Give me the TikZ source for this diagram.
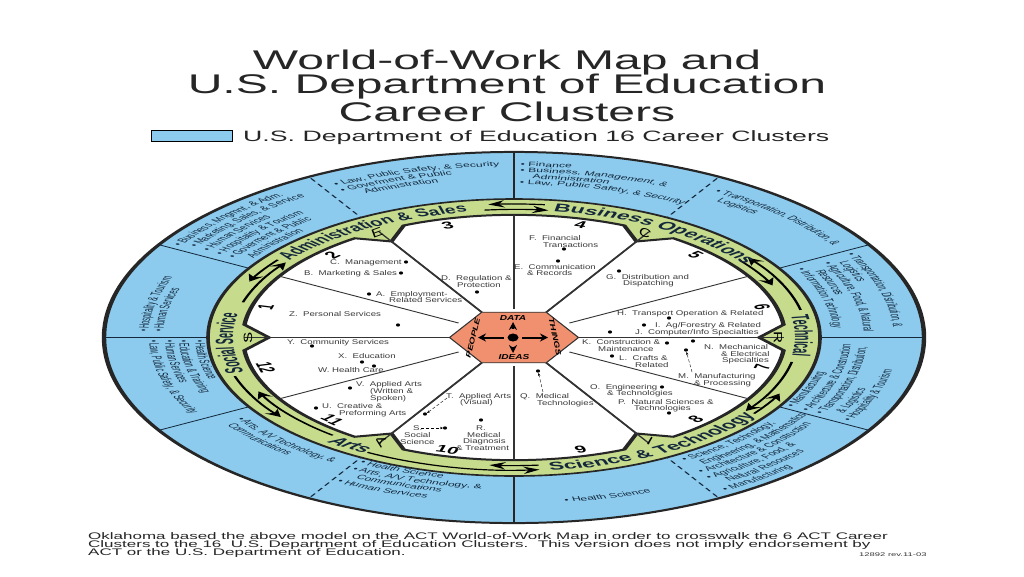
\documentclass[tikz,border=0pt]{standalone}
\usepackage{fontspec}
\usetikzlibrary{arrows.meta}
\setmainfont{Liberation Sans}
\newfontfamily\ftitle[FakeStretch=1.78]{Liberation Sans}
\newfontfamily\fbody[FakeStretch=1.4]{Liberation Sans}
\newfontfamily\fring[FakeStretch=.87]{Liberation Sans}
\newfontfamily\fringb[FakeStretch=.78]{Liberation Sans}
\newfontfamily\fringw[FakeStretch=.92]{Liberation Sans}
\definecolor{ringblue}{HTML}{8CCBEE}
\definecolor{ringgreen}{HTML}{C6DB8C}
\definecolor{hexred}{HTML}{F0906F}
\definecolor{bodygray}{HTML}{3A3A3A}
\definecolor{ringink}{HTML}{14283C}
\newcommand\rtxt{\fontsize{14}{14}\selectfont\fring}
\newcommand\rhead{\fontsize{25}{25}\selectfont\fringb\bfseries}
\newcommand\rheadw{\fontsize{25}{25}\selectfont\fringw\bfseries}
\newcommand\rheadi{\fontsize{25}{25}\selectfont\fringw\bfseries\itshape}
\newdimen\wheelpos \newdimen\wheelmid \newdimen\wheelstep \newbox\wheelbox
\makeatletter
\def\arcchar#1{\setbox\wheelbox=\hbox{\pgfinterruptpicture\arcfont #1\endpgfinterruptpicture}\wheelstep=\wd\wheelbox
 \wheelmid=\wheelpos \advance\wheelmid by .5\wheelstep
 \edef\arcmidn{\strip@pt\wheelmid}%
 \pgfmathsetmacro\arcang{\arcS+\arcD*(\arcmidn/\arcR)*57.29578}%
 \pgfmathsetmacro\arcrot{\arcang+\arcD*90}%
 \advance\wheelpos by \wheelstep
 \node[inner sep=0pt,text=ringink,font=\arcfont,rotate=\arcrot,anchor=base] at (\arcang:\arcR) {#1};}
\def\arcword#1{\@tfor\arcc:=#1\do{\arcchar{\arcc}}}
\def\arcwords#1 #2\@nil{\arcword{#1}\ifx\relax#2\relax\else\advance\wheelpos by \arcspace\relax\arcwords#2\@nil\fi}
\newcommand\arctext[5]{\begingroup\def\arcR{#1}\def\arcS{#2}\def\arcD{#3}\def\arcfont{#4}\wheelpos=0pt
 \setbox\wheelbox=\hbox{\pgfinterruptpicture\arcfont\global\dimen1=\fontdimen2\font\endpgfinterruptpicture}\edef\arcspace{\the\dimen1}\arcwords#5 \@nil\endgroup}
\makeatother
% clockwise text (upper half), counter-clockwise text (lower half)
\newcommand\cwt[4]{\arctext{#1}{#2}{-1}{#3}{#4}}
\newcommand\cct[4]{\arctext{#1}{#2}{1}{#3}{#4}}
\newcounter{ftn}
\newcommand\ft[3]{\stepcounter{ftn}\node[flat] (ft\theftn) at (#1,#2+2.3) {#3};}
\newcommand\dt[2]{\fill (#1,#2) ellipse[x radius=2.1,y radius=1.6];}
\tikzset{
 flat/.style={anchor=base west,inner sep=0pt,font=\fontsize{6.9}{7}\selectfont\fbody,text=bodygray},
 ttl/.style={inner sep=0pt,font=\fontsize{27}{27}\selectfont\ftitle,text=black!85},
 note/.style={anchor=base west,inner sep=0pt,font=\fontsize{9.55}{9.55}\selectfont\ftitle,text=black!85},
 ringline/.style={draw=ringink,line width=1.6pt},
 dashline/.style={ringline,dash pattern=on 8pt off 6pt},
 flow/.style={line width=2.6pt,-{Stealth[length=16pt,width=16pt]}},
 hexlab/.style={inner sep=0pt,font=\fontsize{7.2}{7}\selectfont\fbody\bfseries\itshape},
 letter/.style={inner sep=0pt,font=\fontsize{12}{12}\selectfont\fbody},
 num/.style={inner sep=0pt,font=\fontsize{22}{22}\selectfont\fringw\bfseries},
 thinarrow/.style={densely dashed,line width=.4pt,-{Stealth[length=3pt,width=2.4pt]}},
}
\begin{document}
\begin{tikzpicture}[x=1pt,y=-1pt]
\useasboundingbox (0,0) rectangle (1024,576);
\fill[white] (0,0) rectangle (1024,576);
% title
\node[ttl] (t1) at (507,63) {World-of-Work Map and};
\node[ttl] (t2) at (507,87) {U.S. Department of Education};
\node[ttl] (t3) at (507,112) {Career Clusters};
\node[draw=black,line width=.8pt,fill=ringblue,minimum width=81pt,minimum height=11pt,inner sep=0pt,anchor=west] (legend) at (151,136) {};
\node[anchor=west,inner sep=0pt,font=\fontsize{15}{15}\selectfont\ftitle,text=black!85] (legendtext) at (243,138) {U.S. Department of Education 16 Career Clusters};
% the wheel, a circle squashed in y
\begin{scope}[x=1pt,y=1pt,transform canvas={shift={(514,-337.5)},yscale=.4526}]
 \draw[fill=ringblue,line width=4.4pt,draw=black!85] (0,0) circle[radius=410];
 \foreach \a in {0,180} \draw[ringline] (\a:300) -- (\a:410);
 \foreach \a in {30,150,210,330} \draw[ringline] (\a:300) -- (\a:410);
 \foreach \a in {90,270} \draw[line width=2pt,draw=black!85] (\a:300) -- (\a:410);
 \foreach \a in {60,120,240,300} \draw[dashline] (\a:300) -- (\a:408);
 \draw[fill=ringgreen,line width=3.6pt,draw=black!85] (0,0) circle[radius=306];
 \draw[fill=white,line width=4.4pt,draw=black!85,line join=miter]
   (-6:271) foreach \a in {0,60,...,300} { -- (\a:245) -- ({\a+6}:271) arc[start angle=\a+6,delta angle=48,radius=271] } -- cycle;
 \foreach \a in {0,30,...,330} \draw[line width=1.8pt,draw=black!80] (\a:64) -- (\a:270);
 \foreach \a in {0,60,120,180,240,300} \draw[line width=2.4pt,draw=black!80] (\a:64) -- (\a:245);
 \draw[fill=hexred,line width=1.5pt,draw=black!80] (0:64.5) -- (60:64.5) -- (120:64.5) -- (180:64.5) -- (240:64.5) -- (300:64.5) -- cycle;
 % flow arrows in the green ring
 \draw[flow] (84:295) arc[start angle=84,delta angle=11,radius=295];
 \draw[flow] (96:283) arc[start angle=96,delta angle=-13,radius=283];
 \draw[flow] (12:293) arc[start angle=12,delta angle=25,radius=293];
 \draw[flow] (37:283) arc[start angle=37,delta angle=-13,radius=283];
 \draw[flow] (-11:283) arc[start angle=-11,delta angle=-24,radius=283];
 \draw[flow] (-35:293) arc[start angle=-35,delta angle=10,radius=293];
 \draw[flow] (240:293) arc[start angle=240,delta angle=35,radius=293];
 \draw[flow] (275:283) arc[start angle=275,delta angle=-10,radius=283];
 \draw[flow] (230:282) arc[start angle=230,delta angle=-25,radius=282];
 \draw[flow] (197:292) arc[start angle=197,delta angle=20,radius=292];
 \draw[flow] (164:282) arc[start angle=164,delta angle=-20,radius=282];
 \draw[flow] (144:292) arc[start angle=144,delta angle=11,radius=292];
 % green ring headings
 \cwt{281}{143}{\rhead}{Administration \& Sales}
 \cwt{281}{82}{\rheadw}{Business Operations}
 \cwt{281}{10}{\rhead}{Technical}
 \cct{297}{-83}{\rheadw}{Science \& Technology}
 \cct{297}{231}{\rheadi}{Arts}
 \cwt{281}{196}{\rhead}{Social Service}
 % sector numbers
 \foreach \n/\a in {1/165,2/135,3/105,4/75,5/45,6/15}
   \node[num,rotate=\a-90] (num\n) at (\a:257) {\n};
 \foreach \n/\a in {7/-15,8/-45,9/-75,10/255,11/225,12/195}
   \node[num,rotate=\a+90] (num\n) at (\a:257) {\n};
 % blue ring, upper half
 \cwt{378}{118}{\rtxt}{• Law, Public Safety, \& Security}
 \cwt{364}{118}{\rtxt}{• Goverment \& Public}
 \cwt{350}{115}{\rtxt}{Administration}
 \cwt{378}{89}{\rtxt}{• Finance}
 \cwt{365}{89}{\rtxt}{• Business, Management, \&}
 \cwt{351}{87}{\rtxt}{Administration}
 \cwt{338}{89}{\rtxt}{• Law, Public Safety, \& Security}
 \cwt{378}{58}{\rtxt}{• Transportation, Distribution, \&}
 \cwt{362}{56}{\rtxt}{Logistics}
 \cwt{380}{29}{\rtxt}{• Transportation, Distribution, \&}
 \cwt{365}{27}{\rtxt}{Logistics}
 \cwt{350}{28}{\rtxt}{• Agriculture, Food, \& Natural}
 \cwt{335}{26}{\rtxt}{Resources}
 \cwt{320}{28}{\rtxt}{• Information Technology}
 \cwt{389}{149}{\rtxt}{• Business, Mngmnt, \& Adm.}
 \cwt{374}{148}{\rtxt}{• Marketing, Sales, \& Service}
 \cwt{359}{148}{\rtxt}{• Human Services}
 \cwt{344}{148}{\rtxt}{• Hospitality \& Tourism}
 \cwt{329}{148}{\rtxt}{• Goverment \& Public}
 \cwt{314}{146}{\rtxt}{Administration}
 \cwt{366}{178}{\rtxt}{• Hospitality \& Tourism}
 \cwt{351}{178}{\rtxt}{• Human Services}
 % blue ring, lower half
 \cct{320}{-29}{\rtxt}{• Manufacturing}
 \cct{337}{-29}{\rtxt}{• Architecture \& Construction}
 \cct{353}{-29}{\rtxt}{• Transportation, Distribution,}
 \cct{370}{-27}{\rtxt}{\& Logistics}
 \cct{385}{-29}{\rtxt}{• Hospitality \& Tourism}
 \cct{323}{-58}{\rtxt}{• Science, Technology,}
 \cct{339}{-56}{\rtxt}{Engineering, \& Mathematics}
 \cct{354}{-58}{\rtxt}{• Architecture \& Construction}
 \cct{369}{-58}{\rtxt}{• Agriculture, Food, \&}
 \cct{385}{-56}{\rtxt}{Natural Resources}
 \cct{400}{-58}{\rtxt}{• Manufacturing}
 \cct{368}{-82}{\rtxt}{• Health Science}
 \cct{319}{241}{\rtxt}{• Health Science}
 \cct{335}{241}{\rtxt}{• Arts, A/V Technology, \&}
 \cct{349}{243}{\rtxt}{Communications}
 \cct{366}{241}{\rtxt}{• Human Services}
 \cct{331}{213}{\rtxt}{• Arts, A/V Technology, \&}
 \cct{346}{214}{\rtxt}{Communications}
 \cct{319}{181}{\rtxt}{• Health Science}
 \cct{335}{181}{\rtxt}{• Education \& Training}
 \cct{349}{181}{\rtxt}{• Human Services}
 \cct{365}{181}{\rtxt}{• Law, Public Safety, \& Security}
\end{scope}
% bump letters
\node[letter,rotate=20] (bE) at (377,233) {E};
\node[letter,rotate=-22] (bC) at (645,233) {C};
\node[letter,rotate=-90] (bR) at (778,338) {R};
\node[letter,rotate=-30] (bI) at (650,441) {I};
\node[letter,rotate=62] (bA) at (380,442) {A};
\node[letter,rotate=90] (bS) at (248,338) {S};
% centre hexagon
\node[hexlab] (data) at (513,318) {DATA};
\node[hexlab] (ideas) at (514,357) {IDEAS};
\node[hexlab,rotate=76] (people) at (473,338) {PEOPLE};
\node[hexlab,rotate=-78] (things) at (555,337) {THINGS};
\coordinate (hc) at (513,337.5);
\fill (hc) ellipse[x radius=5.5,y radius=4];
\foreach \e in {(478,337.5),(548,337.5),(513,322),(513,353)}
  \draw[line width=2pt,-{Stealth[length=8pt,width=8pt]},shorten <=9pt] (hc) -- \e;
% sector texts
\ft{330}{262}{C.\ \ Management}\dt{406}{262}
\ft{304}{273}{B.\ \ Marketing \& Sales}\dt{401}{273}
\dt{369}{294}\ft{376}{294}{A.\ \ Employment-}\ft{389}{300.5}{Related Services}
\ft{441}{278}{D.\ \ Regulation \&}\ft{457}{285}{Protection}\dt{477}{292}
\ft{289}{314}{Z.\ \ Personal Services}\dt{398}{325}
\ft{529}{238}{F.\ \ Financial}\ft{543}{245}{Transactions}\dt{564}{249}
\dt{558}{261}\ft{514}{267}{E.\ \ Communication}\ft{527}{273}{\& Records}
\dt{619}{271}\ft{606}{277}{G.\ \ Distribution and}\ft{623}{283}{Dispatching}
\ft{617}{313}{H.\ \ Transport Operation \& Related}\dt{669}{318}
\dt{644}{325}\ft{655}{325}{I.\ \ Ag/Forestry \& Related}
\dt{610}{332}\ft{635}{332}{J.\ \ Computer/Info Specialties}
\ft{582}{342}{K.\ \ Construction \&}\dt{667}{343}\ft{598}{349}{Maintenance}
\dt{612}{356}\ft{619}{358}{L.\ \ Crafts \&}\ft{635}{365}{Related}
\dt{693}{341}\ft{704}{347}{N.\ \ Mechanical}\ft{721}{354}{\& Electrical}\ft{722}{360}{Specialties}
\dt{686}{350}\draw[thinarrow] (692,372) -- (686.5,352);
\ft{678}{376}{M.\ \ Manufacturing}\ft{694}{383}{\& Processing}
\ft{590}{387}{O.\ \ Engineering}\dt{662}{387}\ft{607}{393}{\& Technologies}
\ft{618}{402}{P.\ \ Natural Sciences \&}\ft{634}{408}{Technologies}\dt{669}{413}
\dt{538}{371}\draw[thinarrow] (543,392) -- (538.5,373);
\ft{520}{396}{Q.\ \ Medical}\ft{537}{403}{Technologies}
\ft{287}{342}{Y.\ \ Community Services}\dt{312}{346}
\ft{338}{356}{X.\ \ Education}\dt{362}{362}\dt{374}{366}
\ft{318}{370}{W. Health Care}
\dt{350}{388}\ft{356}{384}{V.\ \ Applied Arts}\ft{370}{391}{(Written \&}\ft{370}{398}{Spoken)}
\dt{316}{408}\ft{322}{406}{U.\ \ Creative \&}\ft{339}{413}{Preforming Arts}
\ft{446}{396}{T.\ \ Applied Arts}\ft{460}{402}{(Visual)}
\dt{425}{414}\draw[thinarrow] (447,398) -- (427,413);
\ft{413}{428}{S.}\draw[thinarrow] (421,428) -- (443,428);\dt{445}{428}
\ft{404}{435}{Social}\ft{400}{442}{Science}
\dt{481}{420}\ft{476}{428}{R.}\ft{467}{435}{Medical}\ft{463}{441.5}{Diagnosis}\ft{456}{448}{\& Treatment}
% footer
\node[note] (n1) at (88,539) {Oklahoma based the above model on the ACT World-of-Work Map in order to crosswalk the 6 ACT Career};
\node[note] (n2) at (88,547) {Clusters to the 16\ \ U.S. Department of Education Clusters.\ \ This version does not imply endorsement by};
\node[note] (n3) at (88,555) {ACT or the U.S. Department of Education.};
\node[anchor=base west,inner sep=0pt,font=\fontsize{5.3}{5}\selectfont\ftitle,text=black!80] (n4) at (859,556) {12892 rev.11-03};
\end{tikzpicture}
\end{document}
